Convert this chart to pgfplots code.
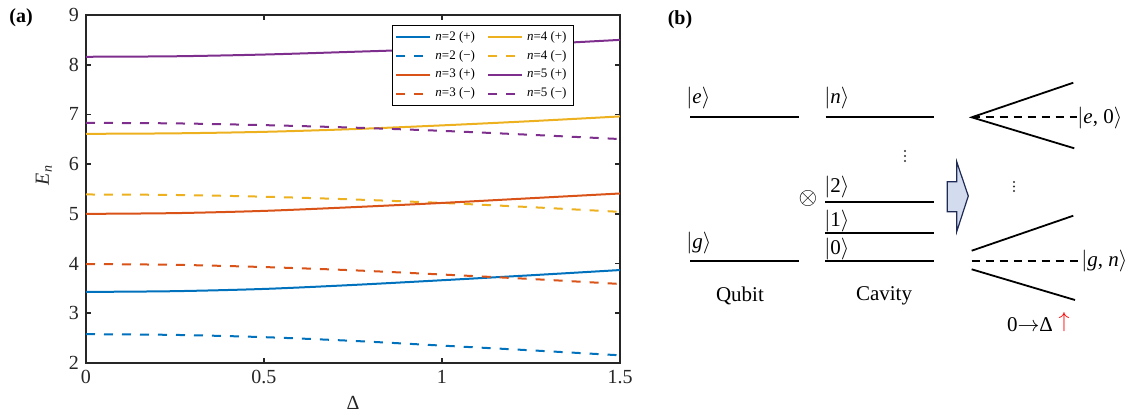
\documentclass[border=0pt]{standalone}
\usepackage{fontspec}
\setmainfont{Liberation Serif}
\usepackage{pgfplots}
\pgfplotsset{compat=1.18}

\definecolor{mblue}{rgb}{0,0.447,0.741}
\definecolor{mred}{rgb}{0.85,0.325,0.098}
\definecolor{myellow}{rgb}{0.929,0.694,0.125}
\definecolor{mpurple}{rgb}{0.494,0.184,0.556}
\definecolor{axgray}{HTML}{262626}
\definecolor{arrowfill}{HTML}{D3DCEE}
\definecolor{arrowedge}{HTML}{1F2A55}

\begin{document}
\begin{tikzpicture}
% page frame in reference pixels (1 px = 0.5 pt, y downwards)
\begin{scope}[x=0.5pt,y=-0.5pt]
\useasboundingbox (0,0) rectangle (1132,415);
\end{scope}

\begin{axis}[
    at={(43pt,-181.5pt)}, anchor=south west,
    scale only axis, width=267pt, height=174pt,
    xmin=0, xmax=1.5, ymin=2, ymax=9,
    xtick={0,0.5,1,1.5}, ytick={2,3,4,5,6,7,8,9},
    tick align=inside,
    major tick length=2.5pt,
    axis line style={axgray, line width=0.9pt},
    every tick/.style={axgray, line width=0.9pt},
    ticklabel style={font=\fontsize{10}{12}\selectfont, text=axgray},
    /pgf/number format/assume math mode=true,
    xlabel={Δ}, ylabel={\textit{E}\textsubscript{\textit{n}}},
    label style={font=\fontsize{10}{12}\selectfont, text=axgray},
    xlabel style={at={(axis description cs:0.5,-0.115)}, anchor=center},
    ylabel style={at={(axis description cs:-0.079,0.54)}, anchor=center},
    legend columns=2,
    legend cell align=left,
    legend style={at={(axis description cs:0.914,0.971)}, anchor=north east,
        draw=black, line width=0.5pt, fill=white,
        font=\fontsize{6.5}{7.5}\selectfont,
        inner xsep=1.5pt, inner ysep=0.8pt,
        /tikz/every even column/.append style={column sep=4pt},
        row sep=-0.6pt},
    legend image code/.code={\draw[#1] (0pt,0pt) -- (17pt,0pt);},
    every axis plot/.append style={line width=1pt, smooth},
    dashpat/.style={dash pattern=on 4.5pt off 4.5pt},
]
% n=2 (+)
\addplot[mblue] coordinates {(0,3.43)(0.25,3.445)(0.5,3.49)(0.75,3.57)(1,3.665)(1.25,3.765)(1.5,3.87)};
\addlegendentry{\textit{n}=2 (+)}
% n=4 (+)
\addplot[myellow] coordinates {(0,6.61)(0.25,6.62)(0.5,6.65)(0.75,6.705)(1,6.78)(1.25,6.865)(1.5,6.96)};
\addlegendentry{\textit{n}=4 (+)}
% n=2 (-)
\addplot[mblue, dashpat] coordinates {(0,2.58)(0.25,2.565)(0.5,2.52)(0.75,2.445)(1,2.35)(1.25,2.255)(1.5,2.155)};
\addlegendentry{\textit{n}=2 (−)}
% n=4 (-)
\addplot[myellow, dashpat] coordinates {(0,5.39)(0.25,5.38)(0.5,5.345)(0.75,5.29)(1,5.22)(1.25,5.135)(1.5,5.04)};
\addlegendentry{\textit{n}=4 (−)}
% n=3 (+)
\addplot[mred] coordinates {(0,5.0)(0.25,5.015)(0.5,5.06)(0.75,5.135)(1,5.22)(1.25,5.315)(1.5,5.41)};
\addlegendentry{\textit{n}=3 (+)}
% n=5 (+)
\addplot[mpurple] coordinates {(0,8.16)(0.25,8.17)(0.5,8.205)(0.75,8.26)(1,8.32)(1.25,8.405)(1.5,8.5)};
\addlegendentry{\textit{n}=5 (+)}
% n=3 (-)
\addplot[mred, dashpat] coordinates {(0,3.99)(0.25,3.975)(0.5,3.93)(0.75,3.865)(1,3.78)(1.25,3.69)(1.5,3.59)};
\addlegendentry{\textit{n}=3 (−)}
% n=5 (-)
\addplot[mpurple, dashpat] coordinates {(0,6.83)(0.25,6.82)(0.5,6.785)(0.75,6.735)(1,6.67)(1.25,6.59)(1.5,6.505)};
\addlegendentry{\textit{n}=5 (−)}
\end{axis}

% panel (b): level scheme
\begin{scope}[x=0.5pt,y=-0.5pt, font=\fontsize{10.5}{12}\selectfont,
    lvl/.style={line width=0.9pt, black},
    every node/.style={inner sep=0pt}]
\node[font=\fontsize{10}{12}\selectfont\bfseries] at (21,18) {(a)};
\node[font=\fontsize{10}{12}\selectfont\bfseries] at (680,20) {(b)};

% qubit levels
\draw[lvl] (690,117.3) -- (799,117.3);
\draw[lvl] (690,260.7) -- (799,260.7);
\node[anchor=west] at (686,98) {$|$\textit{e}$\rangle$};
\node[anchor=west] at (686,243) {$|$\textit{g}$\rangle$};
\node at (740,296) {Qubit};

% cavity levels
\draw[lvl] (825.7,117.3) -- (934.3,117.3);
\draw[lvl] (825,201.7) -- (934,201.7);
\draw[lvl] (825,233.3) -- (934,233.3);
\draw[lvl] (825,260.7) -- (934,260.7);
\node[anchor=west] at (824,98) {$|$\textit{n}$\rangle$};
\node[anchor=west] at (824,187) {$|$2$\rangle$};
\node[anchor=west] at (824,221) {$|$1$\rangle$};
\node[anchor=west] at (824,249) {$|$0$\rangle$};
\foreach \yy in {151,156,161} \fill[black!80] (905,\yy) circle[radius=1.1];
\node at (884,296) {Cavity};
\node[font=\fontsize{13}{14}\selectfont] at (808,198) {$\otimes$};

% block arrow
\draw[arrowedge, fill=arrowfill, line width=0.6pt]
    (947.3,181.7) -- (956.7,181.7) -- (956.7,161.7) -- (968.3,196)
    -- (956.7,231.7) -- (956.7,211.7) -- (947.3,211.7) -- cycle;

% splitting, top
\draw[lvl] (1073.3,82.7) -- (971.7,117.3) -- (1074.3,148.3);
\draw[lvl, dash pattern=on 4pt off 3pt] (971.7,117.3) -- (1077,117.3);
\node[anchor=west] at (1077,118) {$|$\textit{e}, 0$\rangle$};
\foreach \yy in {182,186.5,191} \fill[black!80] (1014,\yy) circle[radius=1.1];

% splitting, bottom
\draw[lvl] (971.7,250.7) -- (1073.3,215.7);
\draw[lvl, dash pattern=on 4pt off 3pt] (971.7,260.7) -- (1079,260.7);
\draw[lvl] (971.7,269.3) -- (1075,300);
\node[anchor=west] at (1081,261) {$|$\textit{g}, \textit{n}$\rangle$};

\node at (1030,325) {0$\rightarrow$Δ};
\node[text=red] at (1064,322) {$\uparrow$};
\end{scope}
\end{tikzpicture}
\end{document}
